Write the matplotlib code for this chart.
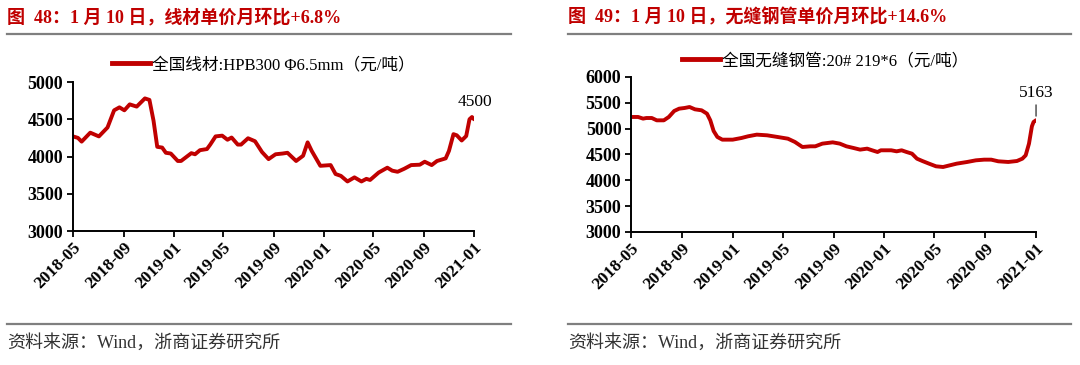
import matplotlib
matplotlib.use('Agg')
import matplotlib.pyplot as plt
import matplotlib.dates as mdates
import pandas as pd
from matplotlib.lines import Line2D

plt.rcParams['font.family'] = ['Liberation Serif', 'Noto Sans CJK SC']

# 全国线材 HPB300 6.5mm (元/吨)
wire_dates = ['2018-05-01', '2018-05-13', '2018-05-22', '2018-06-12', '2018-07-03', '2018-07-24',
              '2018-08-09', '2018-08-22', '2018-09-03', '2018-09-16', '2018-10-03', '2018-10-23',
              '2018-11-03', '2018-11-13', '2018-11-22', '2018-12-04', '2018-12-13', '2018-12-25',
              '2019-01-11', '2019-01-19', '2019-02-13', '2019-02-22', '2019-03-06', '2019-03-23',
              '2019-03-31', '2019-04-13', '2019-04-29', '2019-05-12', '2019-05-22', '2019-06-06',
              '2019-06-14', '2019-07-01', '2019-07-18', '2019-08-04', '2019-08-20', '2019-09-06',
              '2019-09-23', '2019-10-05', '2019-10-26', '2019-11-12', '2019-11-23', '2019-12-03',
              '2019-12-24', '2020-01-18', '2020-01-30', '2020-02-12', '2020-02-28', '2020-03-16',
              '2020-04-02', '2020-04-14', '2020-04-23', '2020-05-14', '2020-06-04', '2020-06-16',
              '2020-06-29', '2020-07-15', '2020-08-01', '2020-08-22', '2020-09-03', '2020-09-20',
              '2020-10-03', '2020-10-24', '2020-11-01', '2020-11-12', '2020-11-20', '2020-12-02',
              '2020-12-13', '2020-12-21', '2020-12-27', '2021-01-01']
wire_vals = [4270, 4250, 4200, 4320, 4270, 4390, 4620, 4660, 4620, 4700,
             4670, 4780, 4760, 4480, 4130, 4120, 4050, 4040, 3940, 3940,
             4045, 4030, 4085, 4100, 4160, 4270, 4280, 4225, 4255, 4160,
             4160, 4245, 4205, 4060, 3965, 4030, 4040, 4050, 3940, 4010,
             4190, 4075, 3875, 3885, 3765, 3740, 3665, 3720, 3665, 3700,
             3685, 3785, 3850, 3810, 3795, 3835, 3885, 3890, 3930, 3885,
             3940, 3975, 4075, 4300, 4285, 4215, 4275, 4500, 4530, 4500]

# 全国无缝钢管 20# 219*6 (元/吨)
pipe_dates = ['2018-05-01', '2018-05-18', '2018-05-30', '2018-06-07', '2018-06-20', '2018-07-02',
              '2018-07-19', '2018-07-31', '2018-08-13', '2018-08-25', '2018-09-07', '2018-09-19',
              '2018-10-02', '2018-10-18', '2018-10-31', '2018-11-08', '2018-11-16', '2018-11-25',
              '2018-12-07', '2019-01-01', '2019-01-22', '2019-02-07', '2019-02-28', '2019-03-25',
              '2019-04-19', '2019-05-14', '2019-05-31', '2019-06-18', '2019-07-07', '2019-07-19',
              '2019-08-05', '2019-08-30', '2019-09-16', '2019-10-02', '2019-10-19', '2019-11-04',
              '2019-11-21', '2019-12-03', '2019-12-16', '2019-12-24', '2020-01-18', '2020-01-31',
              '2020-02-12', '2020-02-24', '2020-03-08', '2020-03-20', '2020-04-02', '2020-04-18',
              '2020-05-05', '2020-05-22', '2020-06-07', '2020-06-24', '2020-07-19', '2020-08-09',
              '2020-08-29', '2020-09-15', '2020-10-02', '2020-10-26', '2020-11-16', '2020-11-29',
              '2020-12-07', '2020-12-15', '2020-12-22', '2020-12-26', '2021-01-01']
pipe_vals = [5226, 5226, 5194, 5206, 5206, 5161, 5161, 5226, 5342, 5387,
             5400, 5419, 5374, 5355, 5290, 5161, 4955, 4839, 4787, 4787,
             4819, 4852, 4884, 4871, 4839, 4806, 4742, 4645, 4658, 4658,
             4710, 4735, 4710, 4658, 4626, 4594, 4613, 4581, 4548, 4581,
             4581, 4561, 4581, 4548, 4516, 4419, 4374, 4323, 4271, 4258,
             4290, 4323, 4355, 4387, 4400, 4400, 4368, 4355, 4374, 4419,
             4484, 4710, 5045, 5129, 5163]

tick_dates = ['2018-05-01', '2018-09-01', '2019-01-01', '2019-05-01', '2019-09-01',
              '2020-01-01', '2020-05-01', '2020-09-01', '2021-01-01']

titles = ['图  48：1 月 10 日，线材单价月环比+6.8%', '图  49：1 月 10 日，无缝钢管单价月环比+14.6%']
legends = ['全国线材:HPB300 Φ6.5mm（元/吨）', '全国无缝钢管:20# 219*6（元/吨）']
source = '资料来源：Wind，浙商证券研究所'

red = '#C00000'
grey_line = '#7f7f7f'

fig = plt.figure(figsize=(10.8, 3.65), dpi=100)

ax1 = fig.add_axes([0.0676, 0.3671, 0.3713, 0.4082])
ax2 = fig.add_axes([0.5843, 0.3644, 0.375, 0.4247])

setups = [
    (ax1, wire_dates, wire_vals, (3000, 5000), 500, legends[0], (0.474, 1.114), '4500', (1, 7), False),
    (ax2, pipe_dates, pipe_vals, (3000, 6000), 500, legends[1], (0.478, 1.103), '5163', (0, 14), True),
]

for ax, d, v, ylim, step, leg, legpos, lab, off, arrow in setups:
    x = pd.to_datetime(d)
    ax.plot(x, v, color=red, lw=2.8, solid_capstyle='round', solid_joinstyle='round')
    ax.set_xlim(pd.Timestamp(tick_dates[0]), pd.Timestamp(tick_dates[-1]))
    ax.set_ylim(*ylim)
    ax.set_yticks(range(ylim[0], ylim[1] + 1, step))
    ax.set_xticks(pd.to_datetime(tick_dates))
    ax.xaxis.set_major_formatter(mdates.DateFormatter('%Y-%m'))
    for s in ['top', 'right']:
        ax.spines[s].set_visible(False)
    for s in ['left', 'bottom']:
        ax.spines[s].set_linewidth(1.4)
    ax.tick_params(axis='y', direction='out', length=4, width=1.3, labelsize=13, pad=3)
    ax.tick_params(axis='x', direction='out', length=4, width=1.3, labelsize=12.5, pad=2)
    for t in ax.get_yticklabels():
        t.set_fontweight('bold')
    for t in ax.get_xticklabels():
        t.set_fontweight('bold')
        t.set_rotation(45)
        t.set_ha('right')
        t.set_rotation_mode('anchor')
    h = Line2D([], [], color=red, lw=3.5)
    ax.legend([h], [leg], loc='center', bbox_to_anchor=legpos, frameon=False,
              fontsize=12, handlelength=2.3, handletextpad=0.1, borderpad=0)
    ap = dict(arrowstyle='-', color='#404040', lw=1, shrinkA=1, shrinkB=3) if arrow else None
    ax.annotate(lab, xy=(x[-1], v[-1]), xytext=off, textcoords='offset points',
                ha='center', va='bottom', fontsize=12.5, arrowprops=ap)

# titles, rules and source notes
for x0, x1, title in [(0.0065, 0.473, titles[0]), (0.526, 0.9917, titles[1])]:
    fig.text(x0, 0.953, title, color=red, fontsize=13, fontweight='bold', va='center', ha='left')
    fig.add_artist(Line2D([x0, x1], [0.907, 0.907], color=grey_line, lw=1.6, transform=fig.transFigure))
    fig.add_artist(Line2D([x0, x1], [0.112, 0.112], color=grey_line, lw=1.6, transform=fig.transFigure))
    fig.text(x0, 0.06, source, color='#333333', fontsize=13, va='center', ha='left')

fig.savefig('out.png', dpi=100)
